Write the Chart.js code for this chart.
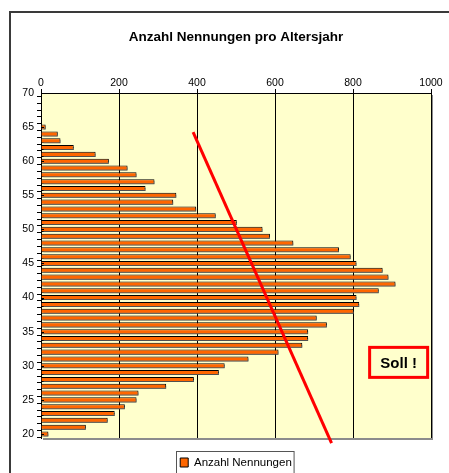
<!DOCTYPE html>
<html>
<head>
<meta charset="utf-8">
<script src="https://cdn.jsdelivr.net/npm/chart.js@4/dist/chart.umd.min.js"></script>
<style>
  html, body { margin: 0; padding: 0; background: #fff; overflow: hidden; }
  #wrap { width: 449px; height: 480px; position: relative; }
</style>
</head>
<body>
<div id="wrap"><canvas id="ageChart"></canvas></div>
<script>
// Altersjahr (age) and number of mentions per age
const ages = [20, 21, 22, 23, 24, 25, 26, 27, 28, 29, 30, 31, 32, 33, 34, 35, 36, 37, 38, 39, 40, 41, 42,
              43, 44, 45, 46, 47, 48, 49, 50, 51, 52, 53, 54, 55, 56, 57, 58, 59, 60, 61, 62, 63, 64, 65];
const nennungen = [19, 115, 171, 189, 215, 245, 250, 321, 392, 456, 471, 532, 609, 670, 685, 685, 733, 707, 802, 816, 809, 866, 909,
                   891, 876, 809, 794, 764, 647, 587, 568, 502, 448, 398, 339, 347, 268, 291, 245, 222, 174, 140, 84, 50, 43, 12];

// hand drawn "target" line and its label, in data units
const sollLine = [{ x: 390, y: 64.25 }, { x: 745, y: 18.65 }];
const sollBox = { x: 917, y: 30.5, text: 'Soll !' };

const xTicks = [0, 200, 400, 600, 800, 1000];

const FONT = '"Liberation Sans", Arial, sans-serif';

// background, plot area, frame, extra ticks, "Soll !" box and legend frame
const decor = {
    id: 'decor',
    beforeDraw(chart) {
        const { ctx, chartArea: a } = chart;
        ctx.save();
        ctx.fillStyle = '#fff';
        ctx.fillRect(0, 0, chart.width, chart.height);
        ctx.strokeStyle = '#3a3a3a';
        ctx.lineWidth = 2;
        ctx.strokeRect(10, 12, 520, 520);
        ctx.fillStyle = '#FFFFCC';
        ctx.fillRect(a.left, a.top, a.right - a.left, a.bottom - a.top);
        ctx.fillStyle = '#8c8c8c';
        ctx.fillRect(a.right, a.top + 2, 2, a.bottom - a.top);
        ctx.fillRect(a.left + 2, a.bottom, a.right - a.left, 2);
        ctx.restore();
    },
    beforeDatasetDraw(chart, args) {
        if (args.index !== 0) return;
        const ctx = chart.ctx;
        ctx.save();
        ctx.shadowColor = 'rgba(100,100,100,0.8)';
        ctx.shadowOffsetX = 2;
        ctx.shadowOffsetY = 2;
        ctx.shadowBlur = 0;
    },
    afterDatasetDraw(chart, args) {
        if (args.index !== 0) return;
        chart.ctx.restore();
    },
    afterDraw(chart) {
        const { ctx, chartArea: a, scales } = chart;
        ctx.save();
        // major ticks cross the y axis
        ctx.strokeStyle = '#000';
        ctx.lineWidth = 1;
        for (let v = 20; v <= 70; v += 5) {
            const py = Math.round(scales.y.getPixelForValue(v)) + 0.5;
            ctx.beginPath();
            ctx.moveTo(a.left, py);
            ctx.lineTo(a.left + 3, py);
            ctx.stroke();
        }
        xTicks.forEach(v => {
            const px = Math.round(scales.x.getPixelForValue(v)) + 0.5;
            ctx.beginPath();
            ctx.moveTo(px, a.top);
            ctx.lineTo(px, a.top + 2);
            ctx.stroke();
        });

        // Soll ! box
        const cx = scales.x.getPixelForValue(sollBox.x);
        const cy = scales.y.getPixelForValue(sollBox.y);
        ctx.strokeStyle = '#FF0000';
        ctx.lineWidth = 3;
        ctx.strokeRect(cx - 29, cy - 15, 58, 30);
        ctx.fillStyle = '#000';
        ctx.font = 'bold 15px ' + FONT;
        ctx.textAlign = 'center';
        ctx.textBaseline = 'middle';
        ctx.fillText(sollBox.text, cx, cy + 1);

        // frame round the legend
        const hb = chart.legend.legendHitBoxes[0];
        if (hb) {
            ctx.strokeStyle = '#555';
            ctx.lineWidth = 1;
            ctx.strokeRect(Math.round(hb.left - 4) + 0.5, Math.round(hb.top - 6) + 0.5, hb.width + 6, 40);
        }
        ctx.restore();
    }
};

const ctx = document.getElementById('ageChart').getContext('2d');
new Chart(ctx, {
    type: 'bar',
    data: {
        datasets: [
            {
                label: 'Anzahl Nennungen',
                data: ages.map((a, i) => ({ x: nennungen[i], y: a })),
                backgroundColor: '#FF6600',
                borderColor: '#000',
                borderWidth: 1,
                barPercentage: 0.74,
                categoryPercentage: 1,
                order: 2
            },
            {
                type: 'line',
                label: 'Soll',
                data: sollLine,
                borderColor: '#FF0000',
                borderWidth: 3,
                pointRadius: 0,
                clip: false,
                order: 1
            }
        ]
    },
    plugins: [decor],
    options: {
        indexAxis: 'y',
        responsive: true,
        maintainAspectRatio: false,
        animation: false,
        layout: { padding: { left: 10, right: 18, top: 0, bottom: 1.75 } },
        scales: {
            x: {
                type: 'linear',
                position: 'top',
                min: 0,
                max: 1000,
                afterBuildTicks: s => { s.ticks = xTicks.map(v => ({ value: v })); },
                afterFit: s => { s.height = 20; },
                grid: { color: '#000', lineWidth: 1, tickLength: 4, tickColor: '#000' },
                border: { display: true, color: '#000', width: 1 },
                ticks: { color: '#000', padding: 0, font: { family: FONT, size: 10.5 }, callback: v => String(v) }
            },
            y: {
                type: 'linear',
                offset: false,
                min: 19.41,
                max: 70,
                afterBuildTicks: s => {
                    const t = [];
                    for (let v = 20; v <= 70; v++) t.push({ value: v });
                    s.ticks = t;
                },
                afterFit: s => { s.width = 31; },
                grid: { drawOnChartArea: false, tickLength: 4, tickColor: '#000' },
                border: { display: true, color: '#000', width: 1 },
                ticks: {
                    color: '#000',
                    padding: 3,
                    autoSkip: false,
                    font: { family: FONT, size: 10.5 },
                    callback: v => (v % 5 === 0 ? String(v) : '')
                }
            }
        },
        plugins: {
            title: {
                display: true,
                fullSize: false,
                text: 'Anzahl Nennungen pro Altersjahr',
                color: '#000',
                font: { family: FONT, size: 13.5, weight: 'bold' },
                padding: { top: 29.5, bottom: 27.3 }
            },
            legend: {
                position: 'bottom',
                fullSize: false,
                labels: {
                    color: '#000',
                    boxWidth: 8,
                    boxHeight: 9,
                    padding: 18.75,
                    font: { family: FONT, size: 11.5 },
                    filter: item => item.datasetIndex === 0
                }
            },
            tooltip: { enabled: false }
        }
    }
});
</script>
</body>
</html>
